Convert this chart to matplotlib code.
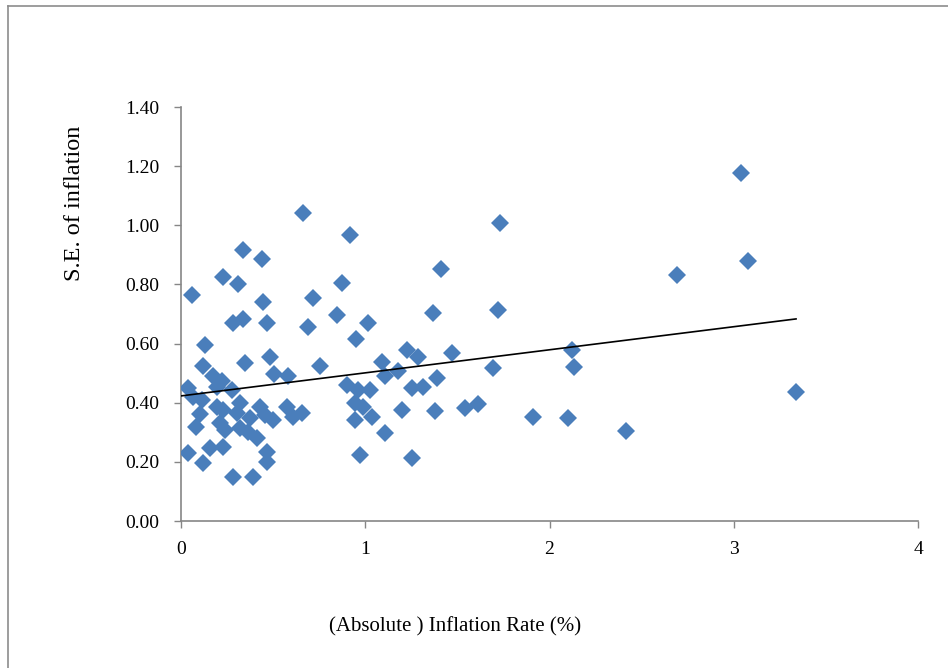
import numpy as np
import matplotlib
matplotlib.use("Agg")
import matplotlib.pyplot as plt
from matplotlib.lines import Line2D

# Data
inflation_abs = [
    0.662, 0.917, 0.336, 1.731, 3.039, 3.077, 2.692, 1.411, 0.440, 0.228,
    0.309, 0.060, 0.445, 0.716, 0.874, 0.847, 1.015, 0.689, 1.368, 1.720,
    0.336, 0.282, 0.467, 0.130, 0.950, 0.119, 0.347, 0.483, 0.754, 1.091,
    1.227, 1.286, 1.471, 1.693, 2.122, 2.133, 0.174, 0.223, 0.277, 0.195,
    0.505, 0.581, 1.107, 1.178, 0.038, 0.065, 0.114, 0.195, 0.228, 0.320,
    0.304, 0.374, 0.429, 0.456, 0.499, 0.575, 0.608, 0.657, 0.103, 0.081,
    0.212, 0.239, 0.320, 0.364, 0.412, 0.157, 0.228, 0.038, 0.119, 0.467,
    0.467, 0.282, 0.391, 0.901, 0.961, 1.026, 0.944, 0.988, 1.037, 0.944,
    1.107, 0.972, 1.254, 1.313, 1.389, 1.199, 1.379, 1.541, 1.612, 1.254,
    1.910, 2.100, 2.415, 3.338,
]
se_inflation = [
    1.042, 0.967, 0.916, 1.008, 1.177, 0.879, 0.832, 0.852, 0.886, 0.825,
    0.801, 0.764, 0.741, 0.754, 0.805, 0.697, 0.670, 0.656, 0.703, 0.714,
    0.683, 0.670, 0.670, 0.595, 0.615, 0.524, 0.534, 0.555, 0.524, 0.538,
    0.578, 0.555, 0.568, 0.517, 0.578, 0.521, 0.490, 0.473, 0.443, 0.453,
    0.497, 0.490, 0.490, 0.507, 0.450, 0.419, 0.409, 0.386, 0.375, 0.399,
    0.365, 0.348, 0.386, 0.358, 0.342, 0.386, 0.352, 0.365, 0.362, 0.318,
    0.331, 0.308, 0.315, 0.301, 0.281, 0.247, 0.250, 0.230, 0.196, 0.233,
    0.200, 0.149, 0.149, 0.460, 0.443, 0.443, 0.399, 0.386, 0.352, 0.342,
    0.298, 0.223, 0.450, 0.453, 0.484, 0.375, 0.372, 0.382, 0.396, 0.213,
    0.352, 0.348, 0.304, 0.436,
]
# Linear trend line as drawn in the reference (intercept, slope)
trend_intercept = 0.423
trend_slope = 0.078

x_ticks = [0, 1, 2, 3, 4]
y_ticks = [0.00, 0.20, 0.40, 0.60, 0.80, 1.00, 1.20, 1.40]

x = np.array(inflation_abs)
y = np.array(se_inflation)

plt.rcParams['font.family'] = ['Liberation Serif', 'DejaVu Serif']

fig = plt.figure(figsize=(9.48, 6.68), dpi=100)
fig.patch.set_facecolor('white')

# outer frame (left and top edges visible)
fig.add_artist(Line2D([8/948, 8/948], [0, 1 - 6/668], transform=fig.transFigure,
                      color='#8c8c8c', lw=1.2))
fig.add_artist(Line2D([8/948, 1], [1 - 6/668, 1 - 6/668], transform=fig.transFigure,
                      color='#8c8c8c', lw=1.2))

ax = fig.add_axes([181/948, 1 - 521/668, 737/948, 414/668])
ax.plot(x, y, linestyle='none', marker='D', markersize=9.4,
        color='#4a7ebb', markeredgewidth=0, zorder=3)
xs = np.array([0.0, x.max()])
ax.plot(xs, trend_intercept + trend_slope * xs, color='black', lw=1.2, zorder=4)

ax.set_xlim(0, 4)
ax.set_ylim(0, 1.4)
ax.set_xticks(x_ticks)
ax.set_xticklabels([str(t) for t in x_ticks])
ax.set_yticks(y_ticks)
ax.set_yticklabels([f"{t:.2f}" for t in y_ticks])

for side in ['top', 'right']:
    ax.spines[side].set_visible(False)
for side in ['left', 'bottom']:
    ax.spines[side].set_color('#868686')
    ax.spines[side].set_linewidth(1.2)
ax.tick_params(axis='both', direction='out', length=5, width=1, color='#868686',
               labelsize=14, labelcolor='black')
ax.tick_params(axis='y', pad=10.5)
ax.tick_params(axis='x', pad=9.5)

fig.text(75/948, 1 - 203/668, 'S.E. of inflation', rotation=90,
         ha='center', va='center', fontsize=17.5)
fig.text(455/948, 1 - 627/668, '(Absolute ) Inflation Rate (%)',
         ha='center', va='center', fontsize=15)

fig.savefig('out.png', dpi=100)
